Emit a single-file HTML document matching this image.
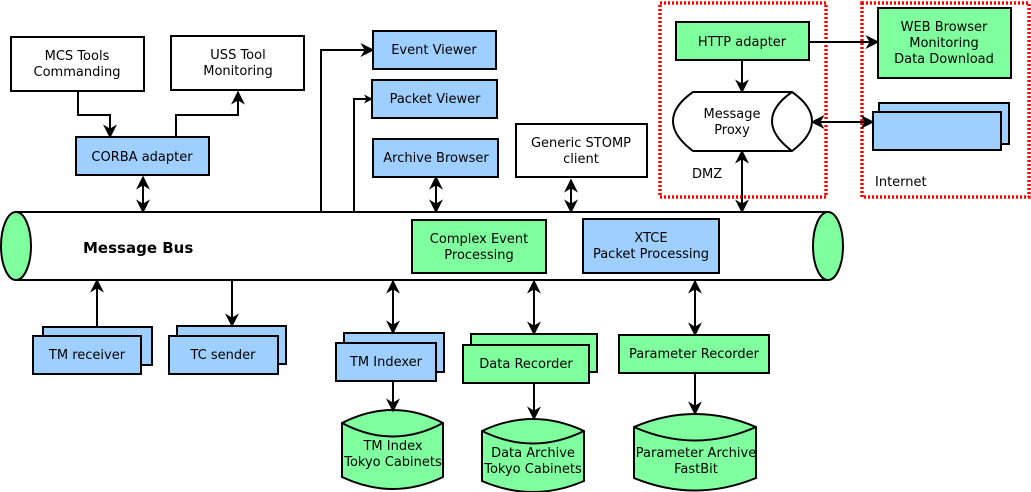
<!DOCTYPE html>
<html><head><meta charset="utf-8"><style>
html,body{margin:0;padding:0;background:#fff}
svg{display:block}
text{font-family:"DejaVu Sans","Liberation Sans",sans-serif;font-size:13px;fill:#000;text-anchor:middle}
</style></head><body>
<svg width="1031" height="492" viewBox="0 0 1031 492" xmlns="http://www.w3.org/2000/svg">
<defs>
<marker id="a" viewBox="0 0 10 10" refX="9" refY="5" markerWidth="9" markerHeight="9" orient="auto-start-reverse" markerUnits="userSpaceOnUse">
<path d="M0,0 L10,5 L0,10 L3,5 Z" fill="#000"/></marker>
<marker id="b" viewBox="0 0 10 10" refX="9" refY="5" markerWidth="14" markerHeight="14" orient="auto-start-reverse" markerUnits="userSpaceOnUse">
<path d="M0,0 L10,5 L0,10 L3,5 Z" fill="#000"/></marker>
</defs>
<g stroke="#000" stroke-width="2">
<rect x="660" y="3" width="166" height="194" fill="none" stroke="#f00" stroke-width="3.5" stroke-dasharray="2,2"/>
<rect x="862" y="3" width="167" height="194" fill="none" stroke="#f00" stroke-width="3.5" stroke-dasharray="2,2"/>
<path d="M16,212 L828,212 M16,280 L828,280" fill="none"/>
<rect x="16" y="213" width="812" height="66" fill="#fff" stroke="none"/>
<ellipse cx="16" cy="246" rx="15" ry="34" fill="#80ff9f"/>
<ellipse cx="828" cy="246" rx="15" ry="34" fill="#80ff9f"/>
<rect x="11" y="37" width="133" height="54" fill="#fff"/>
<rect x="171" y="36" width="133" height="54" fill="#fff"/>
<rect x="76" y="137" width="133" height="38" fill="#9fcfff"/>
<rect x="373" y="31" width="123" height="38" fill="#9fcfff"/>
<rect x="372" y="80" width="125" height="38" fill="#9fcfff"/>
<rect x="373" y="139" width="125" height="38" fill="#9fcfff"/>
<rect x="516" y="124" width="131" height="53" fill="#fff"/>
<rect x="412" y="220" width="134" height="53" fill="#80ff9f"/>
<rect x="583" y="219" width="136" height="54" fill="#9fcfff"/>
<rect x="676" y="22" width="133" height="38" fill="#80ff9f"/>
<path d="M693,92 L792,92 Q812,106 812,121 Q812,136 792,151 L693,151 Q673,136 673,121 Q673,106 693,92 Z" fill="#fff"/>
<path d="M792,92 Q772,106 772,121 Q772,136 792,151" fill="none"/>
<rect x="878" y="8" width="133" height="70" fill="#80ff9f"/>
<rect x="879" y="103" width="130" height="41" fill="#9fcfff"/>
<rect x="873" y="112" width="128" height="38" fill="#9fcfff"/>
<rect x="43" y="327" width="109" height="38" fill="#9fcfff"/>
<rect x="33" y="336" width="108" height="38" fill="#9fcfff"/>
<rect x="177" y="326" width="109" height="38" fill="#9fcfff"/>
<rect x="169" y="336" width="109" height="38" fill="#9fcfff"/>
<rect x="344" y="333" width="100" height="39" fill="#9fcfff"/>
<rect x="336" y="343" width="100" height="38" fill="#9fcfff"/>
<rect x="471" y="334" width="126" height="38" fill="#80ff9f"/>
<rect x="463" y="345" width="126" height="38" fill="#80ff9f"/>
<rect x="619" y="335" width="150" height="38" fill="#80ff9f"/>
<path d="M342,423 Q393,397 443,423 L443,477 Q393,501 342,477 Z" fill="#80ff9f"/>
<path d="M342,423 Q393,450 443,423" fill="none"/>
<path d="M482,431 Q533,407 584,431 L584,481 Q533,503 482,481 Z" fill="#80ff9f"/>
<path d="M482,431 Q533,456 584,431" fill="none"/>
<path d="M634,427 Q695,401 756,427 L756,478 Q695,503 634,478 Z" fill="#80ff9f"/>
<path d="M634,427 Q695,454 756,427" fill="none"/>
<g fill="none">
<path d="M78,91 V115 H110 V137" marker-end="url(#b)"/>
<path d="M176,137 V115 H238 V92" marker-end="url(#b)"/>
<path d="M143,177 V212" marker-start="url(#b)" marker-end="url(#b)"/>
<path d="M321,212 V50 H373" marker-end="url(#b)"/>
<path d="M354,212 V99 H372" marker-end="url(#a)"/>
<path d="M436,177 V212" marker-start="url(#b)" marker-end="url(#b)"/>
<path d="M571,180 V212" marker-start="url(#b)" marker-end="url(#b)"/>
<path d="M742,151 V212" marker-start="url(#b)" marker-end="url(#b)"/>
<path d="M742,60 V92" marker-end="url(#b)"/>
<path d="M809,42 H878" marker-end="url(#b)"/>
<path d="M812,122 H873" marker-start="url(#b)" marker-end="url(#b)"/>
<path d="M97,327 V280" marker-end="url(#b)"/>
<path d="M232,280 V326" marker-end="url(#b)"/>
<path d="M393,281 V333" marker-start="url(#b)" marker-end="url(#b)"/>
<path d="M534,281 V334" marker-start="url(#b)" marker-end="url(#b)"/>
<path d="M695,281 V335" marker-start="url(#b)" marker-end="url(#b)"/>
<path d="M393,381 V411" marker-end="url(#b)"/>
<path d="M534,383 V419" marker-end="url(#b)"/>
<path d="M695,373 V414" marker-end="url(#b)"/>
</g>
</g>
<text x="77" y="60">MCS Tools</text><text x="77" y="76">Commanding</text>
<text x="238" y="59">USS Tool</text><text x="238" y="75">Monitoring</text>
<text x="142" y="161">CORBA adapter</text>
<text x="434" y="54">Event Viewer</text>
<text x="435" y="103">Packet Viewer</text>
<text x="436" y="162">Archive Browser</text>
<text x="581" y="147">Generic STOMP</text><text x="581" y="163">client</text>
<text x="479" y="243">Complex Event</text><text x="479" y="259">Processing</text>
<text x="651" y="242">XTCE</text><text x="651" y="258">Packet Processing</text>
<text x="742" y="46">HTTP adapter</text>
<text x="732" y="118">Message</text><text x="732" y="134">Proxy</text>
<text x="692" y="178" style="text-anchor:start">DMZ</text>
<text x="944" y="31">WEB Browser</text><text x="944" y="47">Monitoring</text><text x="944" y="63">Data Download</text>
<text x="875" y="186" style="text-anchor:start">Internet</text>
<text x="83" y="253" style="text-anchor:start;font-weight:bold;font-size:15px">Message Bus</text>
<text x="87" y="359">TM receiver</text>
<text x="223" y="359">TC sender</text>
<text x="386" y="366">TM Indexer</text>
<text x="526" y="368">Data Recorder</text>
<text x="694" y="358">Parameter Recorder</text>
<text x="393" y="450">TM Index</text><text x="393" y="466">Tokyo Cabinets</text>
<text x="533" y="457">Data Archive</text><text x="533" y="473">Tokyo Cabinets</text>
<text x="696" y="457">Parameter Archive</text><text x="696" y="473">FastBit</text>
</svg>
</body></html>
